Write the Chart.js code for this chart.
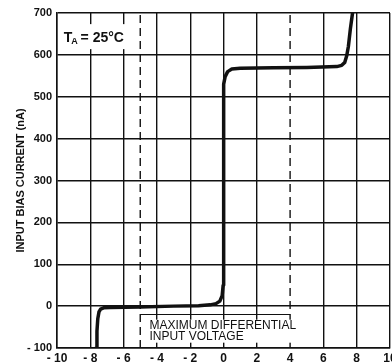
<!DOCTYPE html>
<html>
<head>
<meta charset="utf-8">
<script src="https://cdn.jsdelivr.net/npm/chart.js@4.4.1/dist/chart.umd.min.js"></script>
<style>
  html, body { margin: 0; padding: 0; background: #fff; }
  #wrap { width: 392px; height: 364px; }
</style>
</head>
<body>
<div id="wrap"><canvas id="myChart"></canvas></div>
<script>
// curve (differential input voltage in V, bias current in nA)
const voltage = [-7.65, -7.6, -7.55, -7.48, -7.38, -7.2, -6.8, -5, -3, -1.5, -0.8, -0.45, -0.22, -0.08, -0.02, 0, 0,
  0.03, 0.1, 0.25, 0.5, 1, 3, 5, 6.8, 7.1, 7.28, 7.4, 7.5, 7.62, 7.75];
const biasCurrent = [-100, -60, -30, -14, -7, -4, -3, -2, 0, 1, 3, 6, 12, 25, 50, 100, 500,
  530, 548, 560, 566, 568, 569, 570, 572, 575, 582, 598, 620, 662, 700];

// dashed limit lines and the bracket between them
const limitVoltages = [-5, 4];
const bracketVoltage = [-5, 4];
const bracketCurrent = [-20, -20];

const xMin = -10, xMax = 10, xStep = 2;
const yMin = -100, yMax = 700, yStep = 100;

const FONT = "'Liberation Sans', Arial, sans-serif";
const INK = "#111";

function $(id) {
  return document.getElementById(id);
}

function minusLabel(v) {
  return v < 0 ? "- " + Math.abs(v) : String(v);
}

let curve = voltage.map((v, i) => ({ x: v, y: biasCurrent[i] }));

let datasets = [{
  data: curve,
  showLine: true,
  borderColor: INK,
  borderWidth: 3.5,
  borderCapStyle: "round",
  borderJoinStyle: "round",
  pointRadius: 0,
  tension: 0
}];

limitVoltages.forEach(v => {
  datasets.push({
    data: [{ x: v, y: yMin }, { x: v, y: yMax }],
    showLine: true,
    borderColor: INK,
    borderWidth: 1.4,
    borderDash: [8, 5],
    pointRadius: 0
  });
});

datasets.push({
  data: bracketVoltage.map((v, i) => ({ x: v, y: bracketCurrent[i] })),
  showLine: true,
  borderColor: INK,
  borderWidth: 1.2,
  pointRadius: 0
});

// text labels with a white box behind them, like on the printed sheet
const labelsPlugin = {
  id: "sheetLabels",
  afterDatasetsDraw(chart) {
    const c = chart.ctx;
    const xs = chart.scales.x, ys = chart.scales.y;
    c.save();

    // T_A = 25°C
    let tx = xs.getPixelForValue(-9.6), ty = ys.getPixelForValue(640);
    c.fillStyle = "#fff";
    c.fillRect(tx - 3, ty - 14, 68, 25);
    c.fillStyle = INK;
    c.textBaseline = "alphabetic";
    c.textAlign = "left";
    c.font = "bold 14px " + FONT;
    c.fillText("T", tx, ty + 4);
    let w = c.measureText("T").width;
    c.font = "bold 9px " + FONT;
    c.fillText("A", tx + w - 1, ty + 6);
    let w2 = c.measureText("A").width;
    c.font = "bold 14px " + FONT;
    c.fillText(" = 25°C", tx + w + w2 - 2, ty + 4);

    // MAXIMUM DIFFERENTIAL / INPUT VOLTAGE
    let mx = xs.getPixelForValue(-4.45), my = ys.getPixelForValue(-30);
    c.fillStyle = "#fff";
    c.fillRect(mx - 3, my + 1, 152, 23);
    c.fillStyle = INK;
    c.font = "12px " + FONT;
    c.textBaseline = "top";
    c.fillText("MAXIMUM DIFFERENTIAL", mx, my + 1);
    c.fillText("INPUT VOLTAGE", mx, my + 12);
    c.restore();
  }
};

let ctx = $("myChart").getContext("2d");
let myChart = new Chart(ctx, {
  type: "scatter",
  data: { datasets: datasets },
  plugins: [labelsPlugin],
  options: {
    responsive: true,
    maintainAspectRatio: false,
    animation: false,
    layout: { padding: { top: 13, right: 2, left: 0, bottom: 0 } },
    plugins: {
      legend: { display: false },
      tooltip: { enabled: false },
      title: { display: false }
    },
    scales: {
      x: {
        type: "linear",
        min: xMin,
        max: xMax,
        border: { color: INK, width: 1.5 },
        grid: {
          drawTicks: false,
          lineWidth: 1.4,
          color: c => (c.tick && c.tick.value === 4) ? "rgba(0,0,0,0)" : INK
        },
        ticks: {
          stepSize: xStep,
          padding: 3,
          maxRotation: 0,
          autoSkip: false,
          color: INK,
          font: { family: FONT, size: 12, weight: "bold" },
          callback: v => minusLabel(v)
        },
        afterFit: s => {
          s.height = 16;
          s.paddingLeft = 0;
          s.paddingRight = 0;
        }
      },
      y: {
        type: "linear",
        min: yMin,
        max: yMax,
        border: { color: INK, width: 1.5 },
        grid: { drawTicks: false, lineWidth: 1.4, color: INK },
        ticks: {
          stepSize: yStep,
          padding: 5,
          color: INK,
          font: { family: FONT, size: 11, weight: "bold" },
          callback: v => minusLabel(v)
        },
        title: {
          display: true,
          text: "INPUT BIAS CURRENT (nA)",
          color: INK,
          font: { family: FONT, size: 11, weight: "bold" },
          padding: { top: 14, bottom: 0 }
        },
        afterFit: s => {
          s.width = 57;
          s.paddingTop = 0;
          s.paddingBottom = 0;
        }
      }
    }
  }
});
</script>
</body>
</html>
